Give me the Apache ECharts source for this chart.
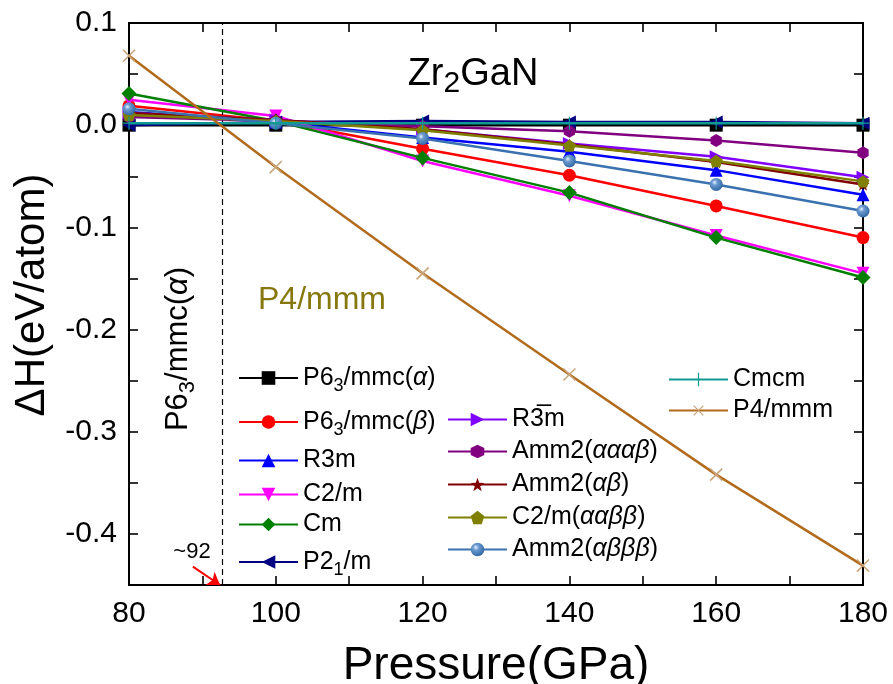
<!DOCTYPE html>
<html><head><meta charset="utf-8">
<script src="https://cdn.jsdelivr.net/npm/echarts@6/dist/echarts.min.js"></script>
<style>html,body{margin:0;padding:0;background:#fff}#c{width:893px;height:684px}</style>
</head><body><div id="c"></div>
<script>
const pressure = [80, 100, 120, 140, 160, 180];
const p63mmcA   = [0.000, 0.000, 0.000, 0.000, 0.000, 0.000];
const p63mmcB   = [0.019, 0.004, -0.023, -0.049, -0.079, -0.110];
const r3m       = [0.013, 0.003, -0.012, -0.026, -0.044, -0.068];
const c2m       = [0.025, 0.009, -0.035, -0.069, -0.108, -0.145];
const cm        = [0.031, 0.004, -0.032, -0.066, -0.110, -0.149];
const p21m      = [0.000, 0.003, 0.004, 0.003, 0.003, 0.002];
const rBar3m    = [0.012, 0.005, -0.004, -0.018, -0.031, -0.051];
const amm2aaab  = [0.008, 0.004, -0.001, -0.006, -0.015, -0.027];
const amm2ab    = [0.012, 0.005, -0.004, -0.019, -0.036, -0.058];
const c2maabb   = [0.010, 0.004, -0.005, -0.020, -0.035, -0.055];
const amm2abbb  = [0.016, 0.002, -0.013, -0.035, -0.058, -0.084];
const cmcm      = [0.002, 0.002, 0.002, 0.002, 0.002, 0.002];
const p4mmm     = [0.068, -0.041, -0.145, -0.244, -0.342, -0.431];
const transitionP = 92.7;
const xTicks = [80, 100, 120, 140, 160, 180];
const yTicks = [0.1, 0.0, -0.1, -0.2, -0.3, -0.4];

const FONT = '"Liberation Sans", Arial, sans-serif';
const HEX = 'path://M0,-10L8.66,-5L8.66,5L0,10L-8.66,5L-8.66,-5Z';
const PENT = 'path://M0,-10L9.51,-3.09L5.88,8.09L-5.88,8.09L-9.51,-3.09Z';
const STAR = 'path://M0,-10L2.35,-3.24L9.51,-3.09L3.8,1.24L5.88,8.09L0,4L-5.88,8.09L-3.8,1.24L-9.51,-3.09L-2.35,-3.24Z';
const PLUS = 'path://M-0.9,-10L0.9,-10L0.9,10L-0.9,10Z M-10,-0.9L10,-0.9L10,0.9L-10,0.9Z';
const steelGrad = {type:'radial', x:0.38, y:0.35, r:0.7, colorStops:[{offset:0,color:'#e8f2ff'},{offset:0.3,color:'#6b9bd0'},{offset:1,color:'#2e64a0'}]};

const defs = [
  {name:'P63/mmc(a)', data:p63mmcA, color:'#000000', symbol:'rect', label:'{n|P6}{s|3}{n|/mmc(}{g|α}{n|)}', sub:true, col:238, cy:378},
  {name:'P63/mmc(b)', data:p63mmcB, color:'#ff0000', symbol:'circle', label:'{n|P6}{s|3}{n|/mmc(}{g|β}{n|)}', sub:true, col:238, cy:422},
  {name:'R3m', data:r3m, color:'#0000ff', symbol:'triangle', label:'{n|R3m}', col:238, cy:463},
  {name:'C2/m', data:c2m, color:'#ff00ff', symbol:'triangle', rot:180, label:'{n|C2/m}', col:238, cy:497},
  {name:'Cm', data:cm, color:'#008000', symbol:'diamond', label:'{n|Cm}', col:238, cy:527, size:15},
  {name:'P21/m', data:p21m, color:'#000080', symbol:'triangle', rot:90, label:'{n|P2}{s|1}{n|/m}', sub:true, col:238, cy:562},
  {name:'R-3m', data:rBar3m, color:'#8000ff', symbol:'triangle', rot:-90, label:'{n|R3\u0305m}', col:447, cy:422},
  {name:'Amm2(aaab)', data:amm2aaab, color:'#800080', symbol:HEX, label:'{n|Amm2(}{g|αααβ}{n|)}', col:447, cy:454},
  {name:'Amm2(ab)', data:amm2ab, color:'#800000', symbol:STAR, label:'{n|Amm2(}{g|αβ}{n|)}', col:447, cy:487},
  {name:'C2/m(aabb)', data:c2maabb, color:'#808000', symbol:PENT, label:'{n|C2/m(}{g|ααββ}{n|)}', col:447, cy:520},
  {name:'Amm2(abbb)', data:amm2abbb, color:'#3a72b0', mcolor:steelGrad, symbol:'circle', label:'{n|Amm2(}{g|αβββ}{n|)}', col:447, cy:552},
  {name:'Cmcm', data:cmcm, color:'#109a94', symbol:PLUS, label:'{n|Cmcm}', col:668, cy:382},
  {name:'P4/mmm', data:p4mmm, color:'#b26b1c', mcolor:'#c9a47a', symbol:PLUS, rot:45, label:'{n|P4/mmm}', col:668, cy:413, size:17}
];

const rich = {
  n:{fontSize:25, lineHeight:30, fontFamily:FONT, color:'#000'},
  g:{fontSize:25, lineHeight:30, fontFamily:FONT, color:'#000', fontStyle:'italic'},
  s:{fontSize:18, lineHeight:18, fontFamily:FONT, color:'#000', padding:[17,0,0,0]}
};

const series = defs.map((d, i) => ({
  name: d.name,
  type: 'line',
  data: pressure.map((p, k) => [p, d.data[k]]),
  symbol: d.symbol,
  symbolSize: d.size || 13,
  symbolRotate: d.rot || 0,
  symbolKeepAspect: true,
  showAllSymbol: true,
  lineStyle: {color: d.color, width: 2.5},
  itemStyle: {color: d.mcolor || d.color},
  z: 2 + i,
  animation: false,
  emphasis: {disabled: true}
}));

// Dashed transition line
series[0].markLine = {
  silent: true, symbol: 'none', animation: false,
  label: {show: false},
  lineStyle: {type: [6, 4], color: '#000', width: 1.2},
  data: [{xAxis: transitionP}]
};
// Red arrow pointing to transition pressure
series[1].markLine = {
  silent: true, symbol: ['none', 'arrow'], symbolSize: 12, animation: false,
  label: {show: false},
  lineStyle: {type: 'solid', color: '#ff0000', width: 2},
  data: [[{coord: [88.7, -0.432]}, {coord: [92.4, -0.45]}]]
};

const legends = defs.map(d => {
  const h = d.sub ? 35 : 30;
  return {
    data: [d.name], orient: 'vertical', left: d.col, top: d.cy - h / 2,
    padding: 0, itemWidth: 59, itemHeight: 17, selectedMode: false,
    formatter: () => d.label,
    textStyle: {rich: rich, fontSize: 25, fontFamily: FONT}
  };
});

const axisCommon = {
  type: 'value', axisLine: {show: true, onZero: false, lineStyle: {color: '#000', width: 2}},
  axisTick: {show: true, inside: true, length: 9, lineStyle: {color: '#000', width: 1.6}},
  splitLine: {show: false}
};

const chart = echarts.init(document.getElementById('c'), null, {renderer: 'canvas'});
chart.setOption({
  backgroundColor: '#fff',
  animation: false,
  grid: {left: 129, right: 30, top: 23, bottom: 99, containLabel: false, outerBoundsMode: 'none'},
  xAxis: [
    Object.assign({}, axisCommon, {min: 80, max: 180, interval: 10, position: 'bottom',
      axisLabel: {fontSize: 30, fontFamily: FONT, color: '#000', margin: 14,
        formatter: v => xTicks.includes(v) ? String(v) : ''},
      name: 'Pressure(GPa)', nameLocation: 'middle', nameGap: 58,
      nameTextStyle: {fontSize: 46, fontFamily: FONT, color: '#000'}}),
    Object.assign({}, axisCommon, {min: 80, max: 180, interval: 10, position: 'top', axisLabel: {show: false}})
  ],
  yAxis: [
    Object.assign({}, axisCommon, {min: -0.45, max: 0.1, interval: 0.05, position: 'left',
      axisLabel: {fontSize: 30, fontFamily: FONT, color: '#000', margin: 12, showMaxLabel: true,
        formatter: v => { const r = Math.round(v * 10) / 10; return (Math.abs(v - r) < 1e-6 && yTicks.some(t => Math.abs(t - r) < 1e-6)) ? r.toFixed(1) : ''; }}}),
    Object.assign({}, axisCommon, {min: -0.45, max: 0.1, interval: 0.05, position: 'right', axisLabel: {show: false}})
  ],
  legend: legends,
  series: series,
  graphic: [
    {type: 'text', x: 32, y: 295, rotation: Math.PI / 2,
      style: {text: 'ΔH(eV/atom)', font: '42px ' + FONT, fill: '#000', align: 'center', verticalAlign: 'middle'}},
    {type: 'text', x: 473, y: 75,
      style: {text: '{a|Zr}{b|2}{a|GaN}', align: 'center', verticalAlign: 'middle',
        rich: {a: {fontSize: 38, fontFamily: FONT, color: '#000', lineHeight: 44},
               b: {fontSize: 30, fontFamily: FONT, color: '#000', lineHeight: 30, padding: [18, 0, 0, 0]}}}},
    {type: 'text', x: 258, y: 300,
      style: {text: 'P4/mmm', font: '32px ' + FONT, fill: '#86780e', align: 'left', verticalAlign: 'middle'}},
    {type: 'text', x: 178, y: 349, rotation: Math.PI / 2,
      style: {text: '{n|P6}{s|3}{n|/mmc(}{g|α}{n|)}', align: 'center', verticalAlign: 'middle',
        rich: {n: {fontSize: 31, fontFamily: FONT, color: '#000', lineHeight: 36},
               g: {fontSize: 31, fontFamily: FONT, color: '#000', lineHeight: 36, fontStyle: 'italic'},
               s: {fontSize: 22, fontFamily: FONT, color: '#000', lineHeight: 22, padding: [20, 0, 0, 0]}}}},
    {type: 'text', x: 192, y: 552,
      style: {text: '~92', font: '22px ' + FONT, fill: '#000', align: 'center', verticalAlign: 'middle'}}
  ]
});
</script>
</body></html>
